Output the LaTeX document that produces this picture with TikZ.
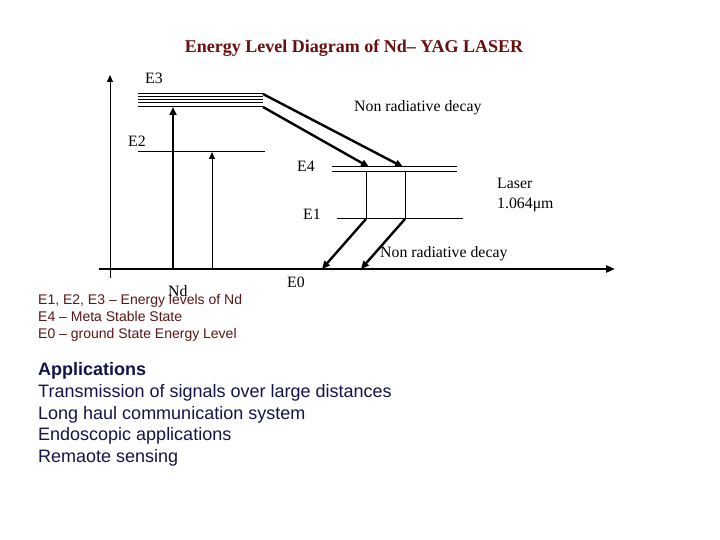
\documentclass[tikz,border=0pt]{standalone}
\usepackage{fontspec}
\setmainfont{Liberation Serif}
\newfontfamily\arialfont{Liberation Sans}
\usetikzlibrary{arrows.meta}
\definecolor{titlered}{RGB}{105,15,15}
\definecolor{legred}{RGB}{90,22,22}
\definecolor{appblue}{RGB}{20,20,75}
\begin{document}
\begin{tikzpicture}[x=1pt,y=-1pt,
  lvl/.style={line width=1pt},
  axisline/.style={line width=2.5pt},
  thickarr/.style={line width=2.4pt,-{Triangle[length=8pt,width=7pt]}},
  thinarr/.style={line width=1pt,-{Triangle[length=7pt,width=6pt]}},
  lab/.style={font=\fontsize{15.8}{15.8}\selectfont, inner sep=0pt, anchor=base west},
  leg/.style={font=\arialfont\fontsize{14}{14}\selectfont, text=legred, inner sep=0pt, anchor=base west},
  app/.style={font=\arialfont\fontsize{18}{18}\selectfont, text=appblue, inner sep=0pt, anchor=base west}]
\useasboundingbox (0,0) rectangle (720,540);
\fill[white] (0,0) rectangle (720,540);
% title
\node[font=\bfseries\fontsize{18}{18}\selectfont, text=titlered, inner sep=0pt, anchor=base] (title) at (354,53) {Energy Level Diagram of Nd– YAG LASER};
% coordinates
\coordinate (axL) at (99,269); \coordinate (axR) at (615,269);
\coordinate (vB) at (110,278); \coordinate (vT) at (110,75);
\coordinate (e3aL) at (138,94);  \coordinate (e3aR) at (263,94);
\coordinate (e3bL) at (138,97);  \coordinate (e3bR) at (263,97);
\coordinate (e3cL) at (138,100); \coordinate (e3cR) at (263,100);
\coordinate (e3dL) at (138,103); \coordinate (e3dR) at (263,103);
\coordinate (e3eL) at (138,107); \coordinate (e3eR) at (263,107);
\coordinate (e2L) at (138,152); \coordinate (e2R) at (265,152);
\coordinate (e4aL) at (332,167); \coordinate (e4aR) at (457,167);
\coordinate (e4bL) at (332,172); \coordinate (e4bR) at (457,172);
\coordinate (e1L) at (337,219); \coordinate (e1R) at (463,219);
\coordinate (p1B) at (173,269); \coordinate (p1T) at (173,107);
\coordinate (p2B) at (212,269); \coordinate (p2T) at (212,152);
\coordinate (d1T) at (403,167); \coordinate (d2T) at (369,167);
\coordinate (l1T) at (366,172); \coordinate (l1B) at (366,219);
\coordinate (l2T) at (405,172); \coordinate (l2B) at (405,219);
\coordinate (g1) at (322,269); \coordinate (g2) at (361,269);
% axes
\draw[axisline,-{Triangle[length=9pt,width=7pt]}] (axL) -- (axR);
\draw[thinarr] (vB) -- (vT);
% levels
\foreach \a in {a,b,c,d,e} \draw[lvl] (e3\a L) -- (e3\a R);
\draw[lvl] (e2L) -- (e2R);
\draw[lvl] (e4aL) -- (e4aR);
\draw[lvl] (e4bL) -- (e4bR);
\draw[lvl] (e1L) -- (e1R);
% pump arrows
\draw[thickarr] (p1B) -- (p1T);
\draw[thinarr] (p2B) -- (p2T);
% non radiative decays
\draw[thickarr] (e3aR) -- (d1T);
\draw[thickarr] (e3eR) -- (d2T);
\draw[thickarr] (l1B) -- (g1);
\draw[thickarr] (l2B) -- (g2);
% laser transitions
\draw[lvl] (l1T) -- (l1B);
\draw[lvl] (l2T) -- (l2B);
% labels
\node[lab] (tE3) at (145,84) {E3};
\node[lab] (tE2) at (128,147) {E2};
\node[lab] (tNR1) at (354,112) {Non radiative decay};
\node[lab] (tE4) at (297,172) {E4};
\node[lab] (tE1) at (303,220) {E1};
\node[lab] (tLaser) at (497,189) {Laser};
\node[lab] (tWave) at (497,208) {1.064μm};
\node[lab] (tNR2) at (380,257) {Non radiative decay};
\node[lab] (tE0) at (287,287) {E0};
% legend
\node[leg] (leg1) at (38,304) {E1, E2, E3 – Energy levels of Nd};
\node[leg] (leg2) at (38,321) {E4 – Meta Stable State};
\node[leg] (leg3) at (38,338) {E0 – ground State Energy Level};
\node[lab] (tNd) at (168,296) {Nd};
% applications
\node[app, font=\arialfont\bfseries\fontsize{18}{18}\selectfont] (app0) at (38,375) {Applications};
\node[app] (app1) at (38,397.5) {Transmission of signals over large distances};
\node[app] (app2) at (38,419.5) {Long haul communication system};
\node[app] (app3) at (38,440.5) {Endoscopic applications};
\node[app] (app4) at (38,462) {Remaote sensing};
\end{tikzpicture}
\end{document}
